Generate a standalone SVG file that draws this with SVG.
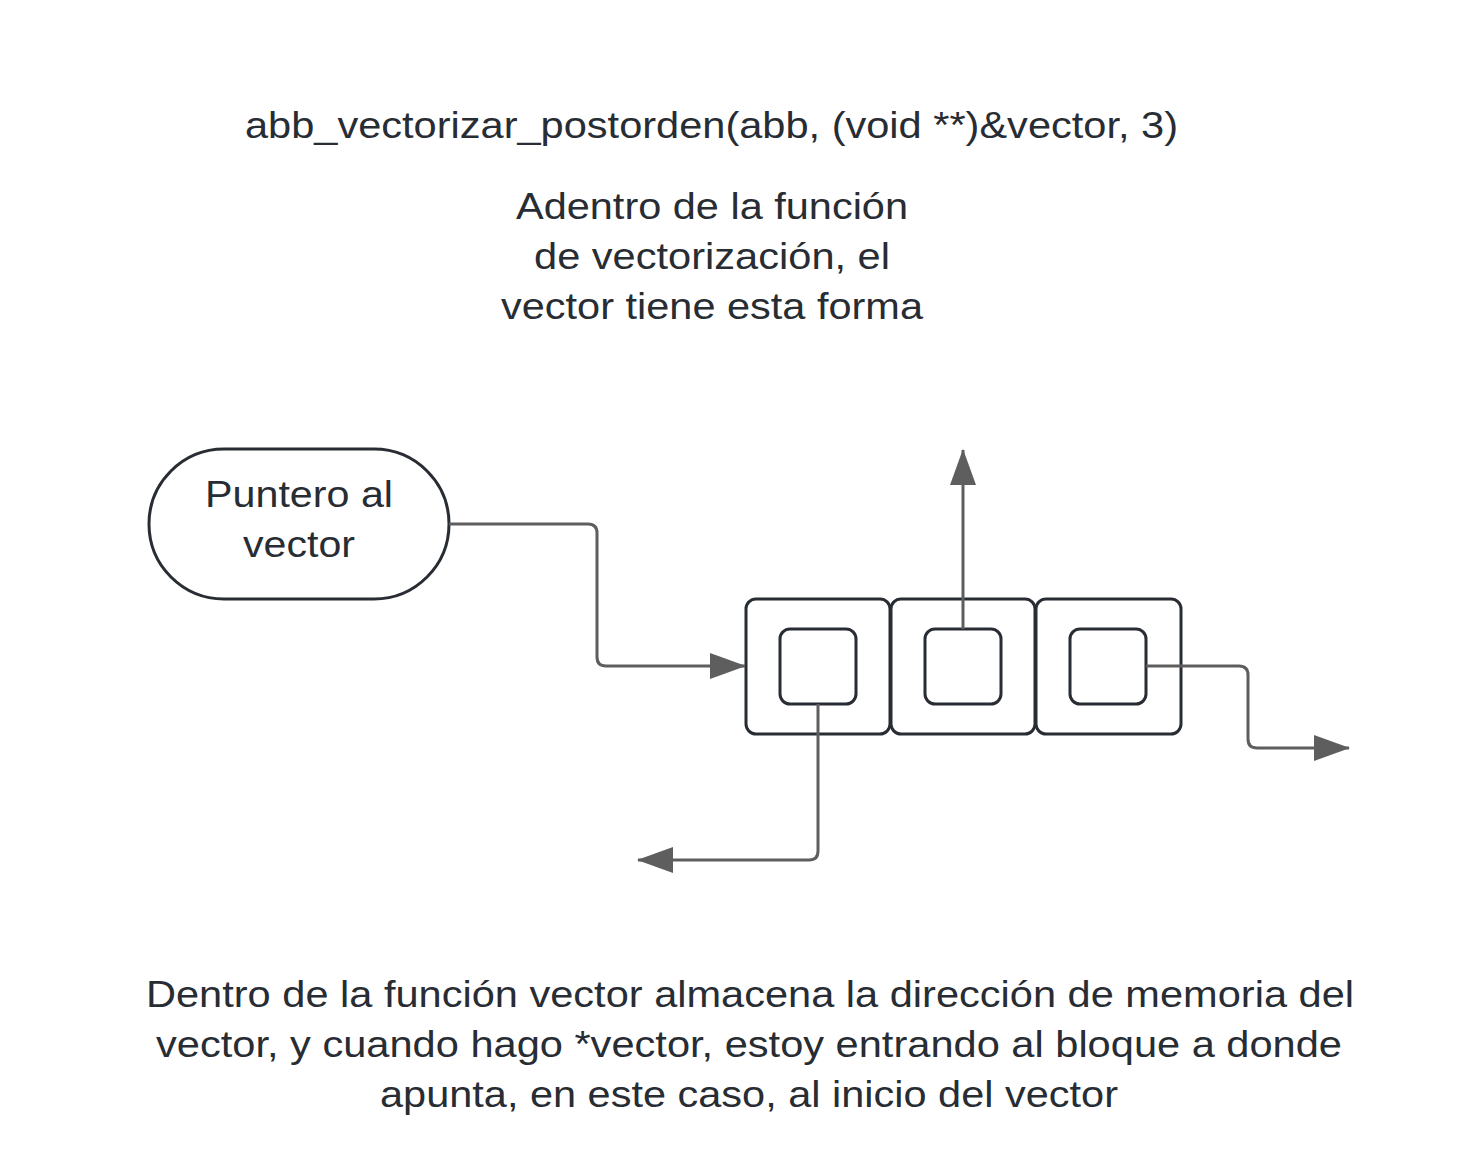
<svg xmlns="http://www.w3.org/2000/svg" width="1463" height="1163" viewBox="0 0 1463 1163">
<style>
text{font-family:"Liberation Sans",Arial,sans-serif;font-size:36.5px;fill:#282c33;text-anchor:middle}
.box{fill:#fff;stroke:#282c33;stroke-width:3}
.conn{fill:none;stroke:#5e5e5e;stroke-width:3}
</style>
<defs>
<marker id="arr" markerUnits="userSpaceOnUse" markerWidth="36" markerHeight="26" refX="35" refY="13" orient="auto">
<path d="M0,0 L36,13 L0,26 Z" fill="#5e5e5e"/>
</marker>
</defs>
<rect width="1463" height="1163" fill="#fff"/>
<g id="title"><text x="711.5" y="138" textLength="933" lengthAdjust="spacingAndGlyphs">abb_vectorizar_postorden(abb, (void **)&amp;vector, 3)</text></g>
<g id="note-top"><text x="712" y="219" textLength="392" lengthAdjust="spacingAndGlyphs">Adentro de la función</text><text x="712" y="269" textLength="356" lengthAdjust="spacingAndGlyphs">de vectorización, el</text><text x="712" y="319" textLength="422" lengthAdjust="spacingAndGlyphs">vector tiene esta forma</text></g>
<g id="puntero"><rect class="box" x="149" y="449" width="300" height="150" rx="75"/><text x="299" y="507" textLength="188" lengthAdjust="spacingAndGlyphs">Puntero al</text><text x="299" y="557" textLength="112" lengthAdjust="spacingAndGlyphs">vector</text></g>
<g id="cell1"><rect class="box" x="746" y="599" width="144" height="135" rx="10"/><rect class="box" x="780" y="629" width="76" height="75" rx="10"/></g>
<g id="cell2"><rect class="box" x="891" y="599" width="144" height="135" rx="10"/><rect class="box" x="925" y="629" width="76" height="75" rx="10"/></g>
<g id="cell3"><rect class="box" x="1036" y="599" width="145" height="135" rx="10"/><rect class="box" x="1070" y="629" width="76" height="75" rx="10"/></g>
<g id="connectors">
<path class="conn" d="M449,524 H588 Q597,524 597,533 V657 Q597,666 606,666 H745" marker-end="url(#arr)"/>
<path class="conn" d="M963,629 V450" marker-end="url(#arr)"/>
<path class="conn" d="M1146,666 H1239 Q1248,666 1248,675 V739 Q1248,748 1257,748 H1349" marker-end="url(#arr)"/>
<path class="conn" d="M818,704 V851 Q818,860 809,860 H638" marker-end="url(#arr)"/>
</g>
<g id="note-bottom"><text x="750" y="1007" textLength="1208" lengthAdjust="spacingAndGlyphs">Dentro de la función vector almacena la dirección de memoria del</text><text x="749" y="1057" textLength="1186" lengthAdjust="spacingAndGlyphs">vector, y cuando hago *vector, estoy entrando al bloque a donde</text><text x="749" y="1107" textLength="738" lengthAdjust="spacingAndGlyphs">apunta, en este caso, al inicio del vector</text></g>
</svg>
